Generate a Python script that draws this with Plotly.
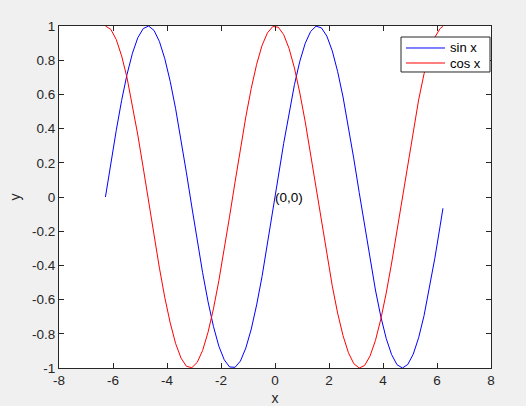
import plotly.graph_objects as go

# sample positions (x = -2*pi + 0.2k, last at 6.22)
x_vals = [-6.28, -6.08, -5.88, -5.68, -5.48, -5.28, -5.08, -4.88, -4.68, -4.48,
          -4.28, -4.08, -3.88, -3.68, -3.48, -3.28, -3.08, -2.88, -2.68, -2.48,
          -2.28, -2.08, -1.88, -1.68, -1.48, -1.28, -1.08, -0.88, -0.68, -0.48,
          -0.28, -0.08, 0.12, 0.32, 0.52, 0.72, 0.92, 1.12, 1.32, 1.52,
          1.72, 1.92, 2.12, 2.32, 2.52, 2.72, 2.92, 3.12, 3.32, 3.52,
          3.72, 3.92, 4.12, 4.32, 4.52, 4.72, 4.92, 5.12, 5.32, 5.52,
          5.72, 5.92, 6.12, 6.22]

sin_vals = [0.0, 0.199, 0.389, 0.565, 0.717, 0.841, 0.932, 0.985, 1.0, 0.974,
            0.909, 0.808, 0.675, 0.516, 0.335, 0.141, -0.058, -0.256, -0.443, -0.612,
            -0.757, -0.872, -0.952, -0.994, -0.996, -0.959, -0.883, -0.773, -0.631, -0.465,
            -0.279, -0.083, 0.117, 0.312, 0.494, 0.657, 0.794, 0.899, 0.968, 0.999,
            0.989, 0.941, 0.855, 0.734, 0.585, 0.412, 0.223, 0.025, -0.174, -0.366,
            -0.544, -0.700, -0.828, -0.922, -0.981, -1.0, -0.979, -0.919, -0.823, -0.694,
            -0.536, -0.358, -0.165, -0.066]

cos_vals = [1.0, 0.980, 0.921, 0.825, 0.697, 0.540, 0.362, 0.170, -0.029, -0.227,
            -0.416, -0.589, -0.737, -0.857, -0.942, -0.990, -0.998, -0.967, -0.897, -0.791,
            -0.654, -0.490, -0.307, -0.112, 0.087, 0.284, 0.469, 0.635, 0.776, 0.886,
            0.960, 0.997, 0.993, 0.950, 0.869, 0.754, 0.608, 0.439, 0.251, 0.054,
            -0.146, -0.339, -0.519, -0.679, -0.811, -0.911, -0.975, -1.0, -0.985, -0.930,
            -0.839, -0.714, -0.561, -0.386, -0.194, 0.004, 0.203, 0.393, 0.568, 0.720,
            0.844, 0.934, 0.986, 0.998]

series_names = ["sin x", "cos x"]
series_colors = ["#0000ff", "#ff0000"]

x_ticks = [-8, -6, -4, -2, 0, 2, 4, 6, 8]
x_tick_labels = ["-8", "-6", "-4", "-2", "0", "2", "4", "6", "8"]
y_ticks = [-1, -0.8, -0.6, -0.4, -0.2, 0, 0.2, 0.4, 0.6, 0.8, 1]
y_tick_labels = ["-1", "-0.8", "-0.6", "-0.4", "-0.2", "0", "0.2", "0.4", "0.6", "0.8", "1"]

axis_color = "#262626"
font_family = "Liberation Sans, Arial, Helvetica, sans-serif"

fig = go.Figure()
for name, vals, col in zip(series_names, [sin_vals, cos_vals], series_colors):
    fig.add_trace(go.Scatter(x=x_vals, y=vals, mode="lines", name=name,
                             line=dict(color=col, width=1), showlegend=False))

fig.add_annotation(x=0, y=0, text="(0,0)", showarrow=False, xanchor="left",
                   yanchor="middle", xshift=-2, font=dict(size=13.5, color="#000000"))

# MATLAB-style compact legend box (paper coordinates)
fig.add_shape(type="rect", xref="paper", yref="paper",
              x0=0.7917, x1=0.9977, y0=0.8655, y1=0.9678,
              fillcolor="#ffffff", line=dict(color=axis_color, width=1), layer="above")
legend_rows_y = [0.9357, 0.8918]
for name, col, ly in zip(series_names, series_colors, legend_rows_y):
    fig.add_shape(type="line", xref="paper", yref="paper",
                  x0=0.8032, x1=0.8935, y0=ly, y1=ly,
                  line=dict(color=col, width=1), layer="above")
    fig.add_annotation(xref="paper", yref="paper", x=0.9005, y=ly, text=name,
                       showarrow=False, xanchor="left", yanchor="middle",
                       font=dict(size=13, color="#000000"))

common = dict(showline=True, linecolor=axis_color, linewidth=1, mirror="ticks",
              ticks="inside", ticklen=5, tickcolor=axis_color, showgrid=False,
              zeroline=False, automargin=False,
              tickfont=dict(size=13.5, color=axis_color))

fig.update_xaxes(range=[-8, 8], tickvals=x_ticks, ticktext=x_tick_labels,
                 title=dict(text="x", standoff=6, font=dict(size=14, color=axis_color)),
                 **common)
fig.update_yaxes(range=[-1, 1], tickvals=y_ticks, ticktext=y_tick_labels,
                 title=dict(text="y", standoff=8, font=dict(size=14, color=axis_color)),
                 **common)

fig.update_layout(
    width=526, height=406,
    margin=dict(l=59, r=35, t=26, b=38),
    paper_bgcolor="#f0f0f0", plot_bgcolor="#ffffff",
    font=dict(family=font_family, size=13.5, color=axis_color),
    showlegend=False,
)

fig.write_html("out.html",
               config={"displayModeBar": False},
               post_script="document.body.style.margin='0';"
                           "document.body.style.overflow='hidden';")
